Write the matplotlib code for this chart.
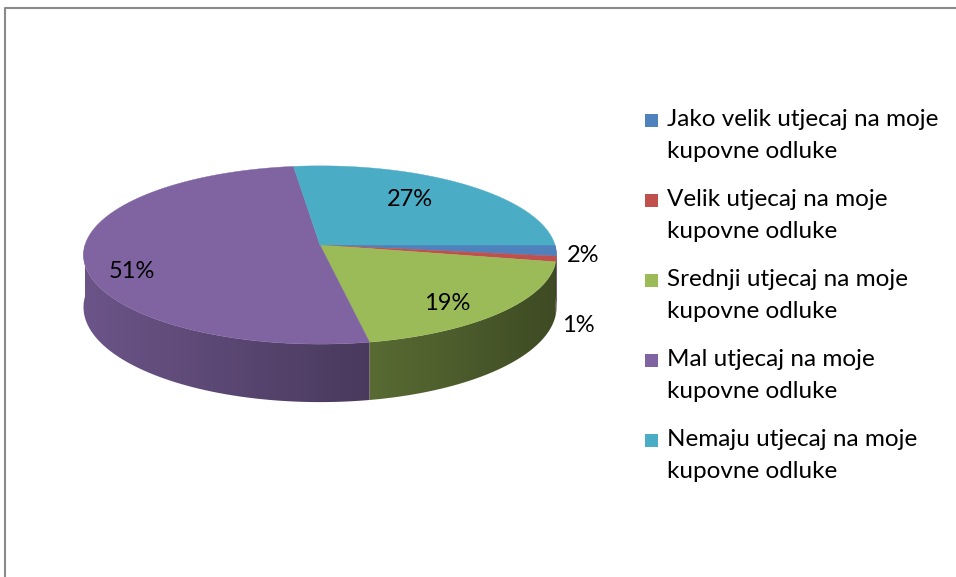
import numpy as np
import matplotlib
matplotlib.use("Agg")
import matplotlib.pyplot as plt
from matplotlib.patches import Polygon, Rectangle
from matplotlib.colors import to_rgb

plt.rcParams['font.family'] = ['Lato', 'DejaVu Sans']

categories = ["Jako velik utjecaj na moje\nkupovne odluke",
              "Velik utjecaj na moje\nkupovne odluke",
              "Srednji utjecaj na moje\nkupovne odluke",
              "Mal utjecaj na moje\nkupovne odluke",
              "Nemaju utjecaj na moje\nkupovne odluke"]
values = [2, 1, 19, 51, 27]
labels = ["2%", "1%", "19%", "51%", "27%"]
colors = ["#4F81BD", "#C0504D", "#9BBB59", "#8064A2", "#4BACC6"]

# pie geometry in pixels (y down)
cx, cy = 320, 245
rx, a, b, d0 = 235, 88, 0.112, 51.5
label_xy = [(583, 255), (578, 325), (447, 303), (132, 272), (410, 200)]


def proj(t):
    s = -np.sin(t)
    k = 1 / (1 - b * s)
    x = cx + rx * np.cos(t) * k
    y = cy + a * s * k
    return x, y, y + d0 * k


fig = plt.figure(figsize=(9.56, 5.77), dpi=100)
ax = fig.add_axes([0, 0, 1, 1])
ax.set_xlim(0, 956)
ax.set_ylim(577, 0)
ax.axis('off')

# slice angles, clockwise from 3 o'clock
ends = -np.cumsum(values) / sum(values) * 2 * np.pi
starts = np.concatenate([[0], ends[:-1]])

# side walls (front half only), shaded left->right
gx = np.linspace(70, 570, 500)
shade = 0.62 - 0.22 * np.clip((gx - cx) / rx, -1, 1)
for st, en, c in zip(starts, ends, colors):
    lo, hi = max(en, -np.pi), min(st, 0)
    if lo >= hi:
        continue
    ts = np.linspace(hi, lo, 300)
    xs, ys, zs = proj(ts)
    pts = list(zip(xs, ys)) + list(zip(xs[::-1], zs[::-1]))
    side = Polygon(pts, closed=True, facecolor='none', edgecolor='none')
    ax.add_patch(side)
    img = np.clip(np.array(to_rgb(c))[None, None, :] * shade[None, :, None], 0, 1)
    im = ax.imshow(img, extent=(70, 570, 420, 230), aspect='auto',
                   interpolation='bilinear', zorder=1)
    im.set_clip_path(side)

# top faces
for st, en, c in zip(starts, ends, colors):
    ts = np.linspace(st, en, 200)
    xs, ys, _ = proj(ts)
    pts = [(cx, cy)] + list(zip(xs, ys))
    ax.add_patch(Polygon(pts, closed=True, facecolor=c, edgecolor=c,
                         linewidth=0.3, zorder=2))

for lab, (lx, ly) in zip(labels, label_xy):
    ax.text(lx, ly, lab, fontsize=17, ha='center', va='center', color='black',
            zorder=3)

# legend
for i, (cat, c) in enumerate(zip(categories, colors)):
    y0 = 120 + 80 * i
    ax.add_patch(Rectangle((645, y0 - 6.5), 13, 13, facecolor=c, edgecolor='none'))
    ax.text(667, y0 - 11, cat, fontsize=17.5, ha='left', va='top',
            linespacing=1.62, color='black')

# chart frame
ax.plot([5, 5, 956], [577, 8, 8], color='#8a8a8a', linewidth=1.5)

ax.set_xlim(0, 956)
ax.set_ylim(577, 0)
fig.savefig("out.png", dpi=100)
